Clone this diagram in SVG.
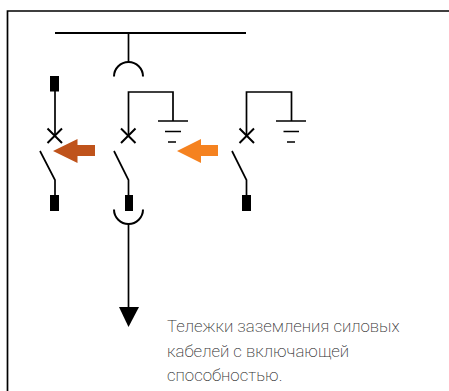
<svg xmlns="http://www.w3.org/2000/svg" width="449" height="391" viewBox="0 0 449 391">
<style>
.l{fill:none;stroke:#000;stroke-width:1.7}
.x{fill:none;stroke:#000;stroke-width:2}
.a{fill:none;stroke:#000;stroke-width:2}
.t{font-family:"Roboto","Open Sans",sans-serif;font-weight:200;font-size:16.800px;fill:#333}
</style>
<rect width="449" height="391" fill="#fff"/>
<g id="frame"><path d="M449 11H7.500V391" fill="none" stroke="#000" stroke-width="1.700"/></g>
<g id="connectors">
<path class="l" d="M55 33H246" style="stroke-width:2"/>
<path class="l" d="M128.500 33V62"/>
<path class="l" d="M55 91V137"/>
<path class="l" d="M40 151L55 180V195"/>
<path class="l" d="M128.500 137V92H173V121"/>
<path class="l" d="M114 151L128.500 180V195"/>
<path class="l" d="M128.500 224V308"/>
<path class="l" d="M246.500 137V92H291.500V121"/>
<path class="l" d="M232 151L246.500 180V195"/>
</g>
<g id="socket-top"><path class="a" d="M114 76.500A14.500 14.500 0 0 1 143 76.500"/></g>
<g id="socket-bottom"><path class="a" d="M114 209.500A14.500 14.500 0 0 0 143 209.500"/></g>
<g id="contact-left-top"><rect x="50" y="76" width="9" height="15.500"/></g>
<g id="contact-left-bottom"><rect x="50" y="195" width="9" height="16"/></g>
<g id="contact-mid-bottom"><rect x="125" y="195" width="8" height="16"/></g>
<g id="contact-right-bottom"><rect x="242" y="195" width="9" height="16"/></g>
<g id="breaker-left"><path class="x" d="M47.500 128.500L62 143M62 128.500L47.500 143"/></g>
<g id="breaker-mid"><path class="x" d="M121 128.500L135.500 143M135.500 128.500L121 143"/></g>
<g id="breaker-right"><path class="x" d="M239.500 128.500L254 143M254 128.500L239.500 143"/></g>
<g id="ground-mid"><path class="l" d="M158 121H188M165 131.500H181M168 142H176"/></g>
<g id="ground-right"><path class="l" d="M276 121H306M283.500 131.500H299M287 142H295"/></g>
<g id="arrow-brown"><path fill="#BF531B" d="M53 151L77.500 139V145H95V156H77.500V163Z"/></g>
<g id="arrow-orange"><path fill="#F58220" d="M177 151L201 139V145H218V156H201V163Z"/></g>
<g id="arrow-down"><path d="M119 307H139L128.500 327Z"/></g>
<g id="label">
<text class="t" x="167" y="332">Тележки заземления силовых</text>
<text class="t" x="167" y="357">кабелей с включающей</text>
<text class="t" x="167" y="381">способностью.</text>
</g>
</svg>
